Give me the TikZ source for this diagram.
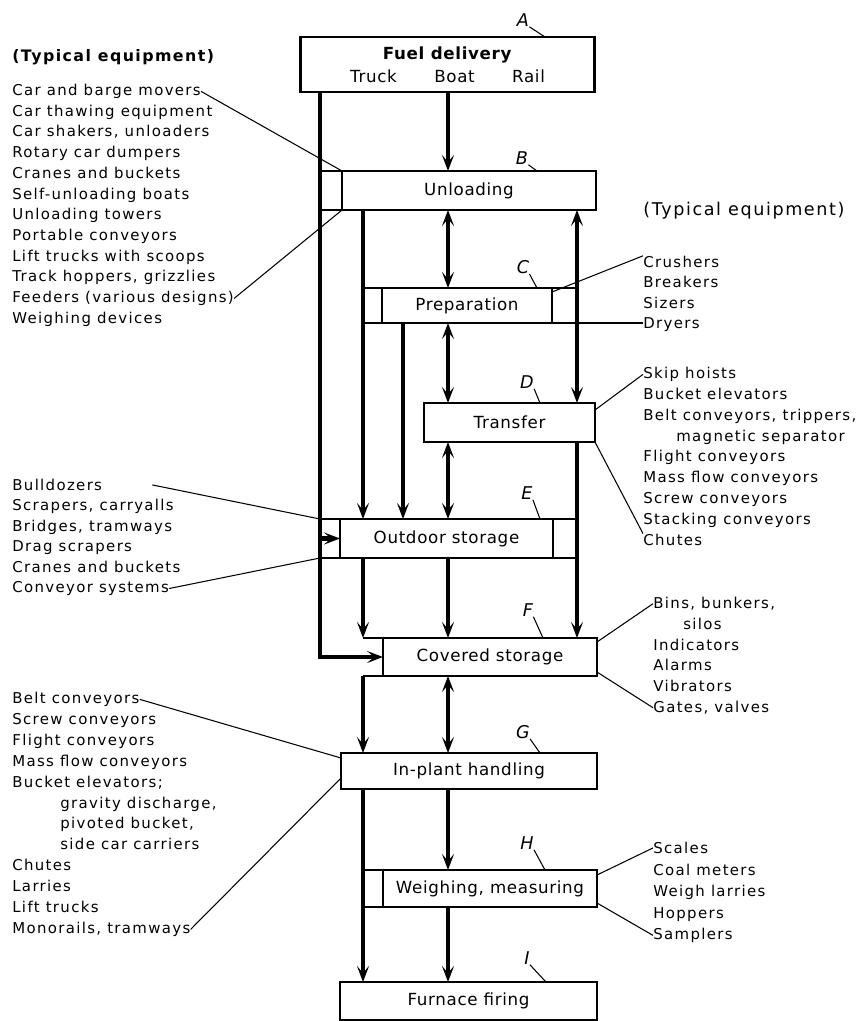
\documentclass[tikz,border=0pt]{standalone}
\usepackage{fontspec}
\setmainfont{DejaVu Sans}
\newfontfamily\listfont{DejaVu Sans}[LetterSpace=9]
\newfontfamily\boxfont{DejaVu Sans}[LetterSpace=4]
\usetikzlibrary{arrows.meta}
\newcommand\ind{\hspace*{0.96cm}}

\begin{document}
\begin{tikzpicture}[x=0.02cm,y=-0.02cm,
	>={Stealth[length=3.2mm,width=2.4mm,inset=1.4mm]},
	box/.style={draw,line width=1.1pt,inner sep=0pt,outer sep=0pt,font=\boxfont\fontsize{9.5}{11}\selectfont},
	item/.style={anchor=base west,inner sep=0pt,font=\listfont\fontsize{8.5}{10}\selectfont},
	tag/.style={inner sep=0pt,font=\boxfont\itshape\fontsize{10}{12}\selectfont},
	flow/.style={line width=2.3pt},
	ext/.style={line width=0.8pt},
	lead/.style={line width=0.6pt}]
	%\draw[help lines,step=1cm] (0,0) grid (858,1021);
	\useasboundingbox (0,0) rectangle (858,1021);
	\coordinate (c1) at (320,0);
	\coordinate (c2) at (363,0);
	\coordinate (c3) at (403,0);
	\coordinate (c4) at (448,0);
	\coordinate (c5) at (577,0);

	\node[box,line width=1.7pt,minimum width=5.9cm,minimum height=1.1cm,align=center] (fuel) at (447.5,64.5)
		{\textbf{Fuel delivery}\\[2pt]Truck\hspace{0.75cm}Boat\hspace{0.75cm}Rail};
	\node[box,minimum width=5.08cm,minimum height=0.78cm] (unload) at (469,190.5) {Unloading};
	\node[box,minimum width=3.4cm,minimum height=0.7cm] (prep) at (467,305.5) {Preparation};
	\node[box,minimum width=3.42cm,minimum height=0.78cm] (transfer) at (509.5,422.5) {Transfer};
	\node[box,minimum width=4.26cm,minimum height=0.78cm] (outdoor) at (446.5,538.5) {Outdoor storage};
	\node[box,minimum width=4.28cm,minimum height=0.76cm] (covered) at (490,657) {Covered storage};
	\node[box,minimum width=5.12cm,minimum height=0.72cm] (inplant) at (469,771) {In-plant handling};
	\node[box,minimum width=4.28cm,minimum height=0.74cm] (weigh) at (490,888.5) {Weighing, measuring};
	\node[box,minimum width=5.14cm,minimum height=0.76cm] (furnace) at (468.5,1001) {Furnace firing};

	\draw[ext] (c1 |- unload.north) -- (unload.north west) (c1 |- unload.south) -- (unload.south west);
	\draw[ext] (c2 |- prep.north) -- (prep.north west) (prep.north east) -- (c5 |- prep.north);
	\draw[ext] (c2 |- prep.south) -- (prep.south west);
	\draw[ext] (c1 |- outdoor.north) -- (outdoor.north west) (outdoor.north east) -- (c5 |- outdoor.north);
	\draw[ext] (c1 |- outdoor.south) -- (outdoor.south west) (outdoor.south east) -- (c5 |- outdoor.south);
	\draw[ext] (c2 |- covered.north) -- (covered.north west) (c2 |- covered.south) -- (covered.south west);
	\draw[ext] (c2 |- weigh.north) -- (weigh.north west) (c2 |- weigh.south) -- (weigh.south west);

	\foreach \c/\a/\b in {c4/fuel/unload,c4/outdoor/covered,c4/inplant/weigh,c4/weigh/furnace,
		c2/unload/outdoor,c2/outdoor/covered,c2/covered/inplant,c2/inplant/furnace,
		c3/prep/outdoor,c5/transfer/covered}
		\draw[flow,->] (\c |- \a.south) -- (\c |- \b.north);
	\foreach \c/\a/\b in {c4/unload/prep,c4/prep/transfer,c4/transfer/outdoor,c4/covered/inplant,c5/unload/transfer}
		\draw[flow,<->] (\c |- \a.south) -- (\c |- \b.north);
	\draw[flow,->] (c1 |- fuel.south) |- (covered.west);
	\draw[flow,->] (c1 |- outdoor.west) -- (outdoor.west);

	\foreach \b/\l/\x/\y/\s in {fuel/A/523/20/1.0,unload/B/522/158/1.18,prep/C/523/267/0.3,
		transfer/D/527/382/1.1,outdoor/E/527/493/0.26,covered/F/528/610/1.08,
		inplant/G/523/732/1.14,weigh/H/527/843/1.04,furnace/I/527/958/1.02}{
		\node[tag] (tag\l) at (\x,\y) {\l};
		\draw[lead] (tag\l.south east) -- ([xshift=-\s cm]\b.north east);
	}

	\node[item,font=\listfont\bfseries\fontsize{9}{10}\selectfont] (eqleft) at (12,61.5) {(Typical equipment)};
	\node[item,font=\listfont\fontsize{10}{12}\selectfont] (eqright) at (643,215.5) {(Typical equipment)};

	\foreach \t [count=\i] in {Car and barge movers,Car thawing equipment,{Car shakers, unloaders},
		Rotary car dumpers,Cranes and buckets,Self-unloading boats,Unloading towers,Portable conveyors,
		Lift trucks with scoops,{Track hoppers, grizzlies},Feeders (various designs),Weighing devices}
		\node[item] (u\i) at (12,{95.5+20.7*(\i-1)}) {\t};
	\draw[lead] (u1.east) -- (unload.north west);
	\draw[lead] (u11.east) -- (unload.south west);

	\foreach \t [count=\i] in {Bulldozers,{Scrapers, carryalls},{Bridges, tramways},Drag scrapers,
		Cranes and buckets,Conveyor systems}
		\node[item] (o\i) at (12,{490.5+20.4*(\i-1)}) {\t};
	\draw[lead] ([xshift=1cm]o1.east) -- (c1 |- outdoor.north);
	\draw[lead] (o6.east) -- (c1 |- outdoor.south);

	\foreach \t [count=\i] in {Belt conveyors,Screw conveyors,Flight conveyors,Mass flow conveyors,
		{Bucket elevators;},{\ind gravity discharge,},{\ind pivoted bucket,},{\ind side car carriers},
		Chutes,Larries,Lift trucks,{Monorails, tramways}}
		\node[item] (h\i) at (12,{703.5+20.9*(\i-1)}) {\t};
	\draw[lead] (h1.east) -- ([yshift=-0.1cm]inplant.north west);
	\draw[lead] (h12.east) -- ([yshift=0.22cm]inplant.south west);

	\foreach \t [count=\i] in {Crushers,Breakers,Sizers,Dryers}
		\node[item] (p\i) at (643,{267.5+20.3*(\i-1)}) {\t};
	\draw[lead] ([yshift=-0.08cm]prep.north east) -- (p1.north west);
	\draw[ext] (prep.south east) -- (prep.south east -| p4.west);

	\foreach \t [count=\i] in {Skip hoists,Bucket elevators,{Belt conveyors, trippers,},
		{\hspace*{0.66cm}magnetic separator},Flight conveyors,Mass flow conveyors,Screw conveyors,
		Stacking conveyors,Chutes}
		\node[item] (r\i) at (643,{378.5+20.85*(\i-1)}) {\t};
	\draw[lead] ([yshift=-0.14cm]transfer.north east) -- (r1.west);
	\draw[lead] (transfer.south east) -- (r9.north west);

	\foreach \t [count=\i] in {{Bins, bunkers,},{\hspace*{0.6cm}silos},Indicators,Alarms,Vibrators,{Gates, valves}}
		\node[item] (k\i) at (653,{608.5+20.8*(\i-1)}) {\t};
	\draw[lead] ([yshift=-0.08cm]covered.north east) -- (k1.west);
	\draw[lead] ([yshift=0.08cm]covered.south east) -- (k6.west);

	\foreach \t [count=\i] in {Scales,Coal meters,Weigh larries,Hoppers,Samplers}
		\node[item] (w\i) at (653,{853.5+21.5*(\i-1)}) {\t};
	\draw[lead] ([yshift=-0.1cm]weigh.north east) -- (w1.west);
	\draw[lead] ([yshift=0.08cm]weigh.south east) -- (w5.west);
\end{tikzpicture}
\end{document}
